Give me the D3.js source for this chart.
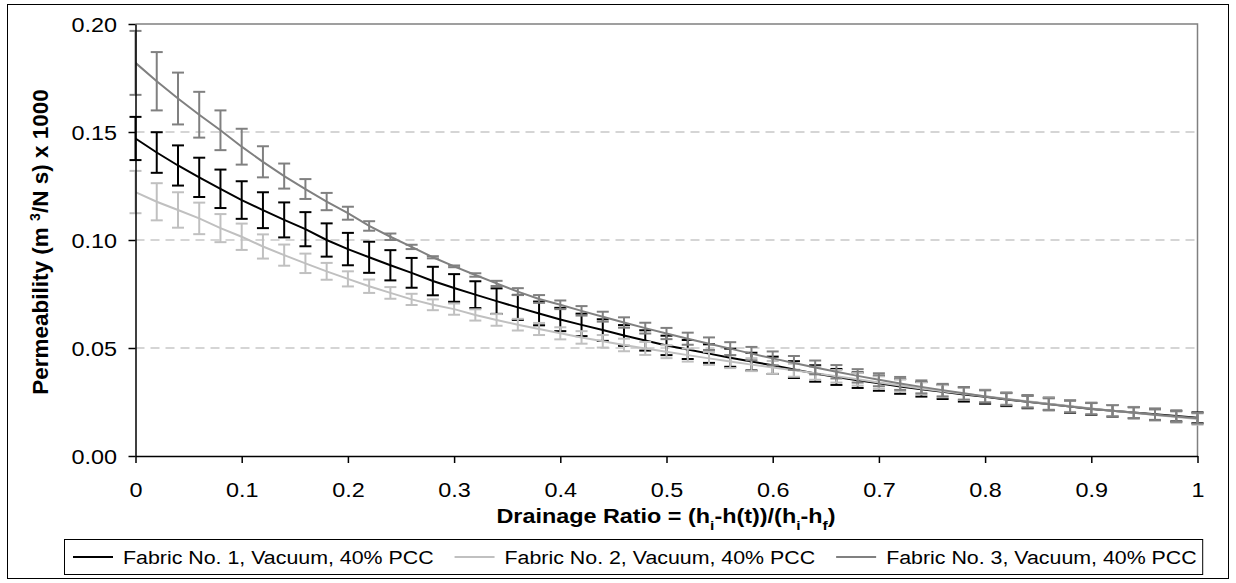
<!DOCTYPE html>
<html>
<head>
<meta charset="utf-8">
<script src="https://cdn.jsdelivr.net/npm/d3@7"></script>
<style>
  body { margin: 0; background: #fff; }
  svg { display: block; font-family: "Liberation Sans", Arial, sans-serif; }
</style>
</head>
<body>
<div id="chart"></div>
<script>
var w = 1236;
var h = 583;

// drainage ratio sample points
var ratio = [0, 0.02, 0.04, 0.06, 0.08, 0.10, 0.12, 0.14, 0.16, 0.18,
             0.20, 0.22, 0.24, 0.26, 0.28, 0.30, 0.32, 0.34, 0.36, 0.38,
             0.40, 0.42, 0.44, 0.46, 0.48, 0.50, 0.52, 0.54, 0.56, 0.58,
             0.60, 0.62, 0.64, 0.66, 0.68, 0.70, 0.72, 0.74, 0.76, 0.78,
             0.80, 0.82, 0.84, 0.86, 0.88, 0.90, 0.92, 0.94, 0.96, 0.98, 1.00];

var fabric1 = [0.1470, 0.1405, 0.1345, 0.1290, 0.1237, 0.1185, 0.1138, 0.1093, 0.1050, 0.1000,
               0.0958, 0.0920, 0.0883, 0.0848, 0.0810, 0.0778, 0.0747, 0.0717, 0.0688, 0.0660,
               0.0632, 0.0607, 0.0583, 0.0558, 0.0535, 0.0512, 0.0493, 0.0474, 0.0455, 0.0437,
               0.0420, 0.0400, 0.0382, 0.0366, 0.0351, 0.0337, 0.0322, 0.0309, 0.0297, 0.0285,
               0.0274, 0.0262, 0.0251, 0.0241, 0.0229, 0.0218, 0.0209, 0.0201, 0.0193, 0.0185, 0.0177];
var err1 = [0.0100, 0.0094, 0.0093, 0.0091, 0.0089, 0.0087, 0.0083, 0.0081, 0.0079, 0.0077,
            0.0075, 0.0072, 0.0070, 0.0069, 0.0066, 0.0064, 0.0062, 0.0059, 0.0058, 0.0055,
            0.0054, 0.0052, 0.0050, 0.0048, 0.0047, 0.0045, 0.0044, 0.0043, 0.0042, 0.0041,
            0.0040, 0.0039, 0.0038, 0.0037, 0.0036, 0.0035, 0.0034, 0.0034, 0.0033, 0.0033,
            0.0032, 0.0031, 0.0030, 0.0029, 0.0029, 0.0028, 0.0027, 0.0026, 0.0026, 0.0025, 0.0025];

var fabric2 = [0.1222, 0.1177, 0.1139, 0.1100, 0.1055, 0.1015, 0.0970, 0.0930, 0.0892, 0.0855,
               0.0820, 0.0786, 0.0755, 0.0725, 0.0700, 0.0680, 0.0653, 0.0630, 0.0608, 0.0588,
               0.0568, 0.0549, 0.0531, 0.0514, 0.0498, 0.0483, 0.0467, 0.0452, 0.0437, 0.0423,
               0.0410, 0.0397, 0.0383, 0.0369, 0.0355, 0.0340, 0.0326, 0.0313, 0.0300, 0.0288,
               0.0277, 0.0265, 0.0253, 0.0242, 0.0231, 0.0220, 0.0210, 0.0200, 0.0190, 0.0180, 0.0171];
var err2 = [0.0098, 0.0086, 0.0082, 0.0073, 0.0065, 0.0061, 0.0056, 0.0049, 0.0045, 0.0039,
            0.0035, 0.0031, 0.0027, 0.0026, 0.0025, 0.0026, 0.0026, 0.0027, 0.0027, 0.0028,
            0.0028, 0.0029, 0.0029, 0.0029, 0.0030, 0.0030, 0.0030, 0.0030, 0.0030, 0.0030,
            0.0030, 0.0030, 0.0030, 0.0029, 0.0029, 0.0029, 0.0029, 0.0028, 0.0028, 0.0028,
            0.0028, 0.0027, 0.0027, 0.0027, 0.0027, 0.0027, 0.0026, 0.0026, 0.0026, 0.0026, 0.0026];

var fabric3 = [0.1820, 0.1735, 0.1655, 0.1580, 0.1508, 0.1432, 0.1362, 0.1296, 0.1236, 0.1178,
               0.1124, 0.1065, 0.1015, 0.0968, 0.0920, 0.0878, 0.0838, 0.0799, 0.0761, 0.0727,
               0.0700, 0.0672, 0.0645, 0.0618, 0.0592, 0.0567, 0.0543, 0.0520, 0.0497, 0.0474,
               0.0452, 0.0431, 0.0410, 0.0390, 0.0371, 0.0353, 0.0336, 0.0320, 0.0305, 0.0290,
               0.0276, 0.0263, 0.0251, 0.0240, 0.0229, 0.0219, 0.0209, 0.0200, 0.0191, 0.0183, 0.0175];
var err3 = [0.0148, 0.0135, 0.0120, 0.0106, 0.0092, 0.0083, 0.0072, 0.0058, 0.0046, 0.0040,
            0.0030, 0.0022, 0.0015, 0.0010, 0.0005, 0.0004, 0.0008, 0.0012, 0.0016, 0.0018,
            0.0020, 0.0022, 0.0023, 0.0024, 0.0025, 0.0026, 0.0028, 0.0029, 0.0030, 0.0031,
            0.0032, 0.0032, 0.0032, 0.0031, 0.0031, 0.0030, 0.0030, 0.0030, 0.0029, 0.0029,
            0.0028, 0.0028, 0.0027, 0.0027, 0.0027, 0.0026, 0.0026, 0.0025, 0.0025, 0.0025, 0.0025];

var seriesNames = ["Fabric No. 1, Vacuum, 40% PCC",
                   "Fabric No. 2, Vacuum, 40% PCC",
                   "Fabric No. 3, Vacuum, 40% PCC"];
var seriesColors = ["#000000", "#c0c0c0", "#808080"];
var xTicks = [0, 0.1, 0.2, 0.3, 0.4, 0.5, 0.6, 0.7, 0.8, 0.9, 1];
var yTicks = [0, 0.05, 0.10, 0.15, 0.20];
var gridVals = [0.05, 0.10, 0.15];

var stretch = 1.2;  // text in the picture is a bit wide

function init(){
	var series = [
		{name: seriesNames[0], color: seriesColors[0], values: fabric1, err: err1},
		{name: seriesNames[1], color: seriesColors[1], values: fabric2, err: err2},
		{name: seriesNames[2], color: seriesColors[2], values: fabric3, err: err3}
	];

	var xScale = d3.scaleLinear()
					.domain([0, 1])
					.range([135.5, 1197.5]);

	var yScale = d3.scaleLinear()
					.domain([0, 0.2])
					.range([456, 24]);

	var svg = d3.select("#chart")
				.append("svg")
				.attr("width", w)
				.attr("height", h);

	// chart area frame
	svg.append("rect")
		.attr("x", 7.5).attr("y", 4.5)
		.attr("width", 1221).attr("height", 574)
		.attr("fill", "#fff")
		.attr("stroke", "#000")
		.attr("stroke-width", 1);

	// dashed gridlines
	svg.selectAll(".grid")
		.data(gridVals)
		.enter()
		.append("line")
		.attr("x1", xScale(0)).attr("x2", xScale(1))
		.attr("y1", function(d){ return yScale(d); })
		.attr("y2", function(d){ return yScale(d); })
		.attr("stroke", "#c8c8c8")
		.attr("stroke-width", 1.5)
		.attr("stroke-dasharray", "9,6");

	// plot area border top + right
	svg.append("path")
		.attr("d", "M" + xScale(0) + "," + yScale(0.2) + "H" + xScale(1) + "V" + yScale(0))
		.attr("fill", "none")
		.attr("stroke", "#808080")
		.attr("stroke-width", 1.5);

	var line = d3.line()
				.x(function(d, i){ return xScale(ratio[i]); })
				.y(function(d){ return yScale(d); });

	var capHalf = 6;

	series.forEach(function(s){
		var g = svg.append("g").attr("class", "series");

		var bars = g.selectAll(".bar")
					.data(s.values)
					.enter()
					.append("g");

		bars.append("line")   // vertical stem
			.attr("x1", function(d, i){ return xScale(ratio[i]); })
			.attr("x2", function(d, i){ return xScale(ratio[i]); })
			.attr("y1", function(d, i){ return yScale(d + s.err[i]); })
			.attr("y2", function(d, i){ return yScale(d - s.err[i]); });
		bars.append("line")   // top cap
			.attr("x1", function(d, i){ return xScale(ratio[i]) - capHalf; })
			.attr("x2", function(d, i){ return xScale(ratio[i]) + capHalf; })
			.attr("y1", function(d, i){ return yScale(d + s.err[i]); })
			.attr("y2", function(d, i){ return yScale(d + s.err[i]); });
		bars.append("line")   // bottom cap
			.attr("x1", function(d, i){ return xScale(ratio[i]) - capHalf; })
			.attr("x2", function(d, i){ return xScale(ratio[i]) + capHalf; })
			.attr("y1", function(d, i){ return yScale(d - s.err[i]); })
			.attr("y2", function(d, i){ return yScale(d - s.err[i]); });
		bars.selectAll("line")
			.attr("stroke", s.color)
			.attr("stroke-width", 2);

		g.append("path")
			.datum(s.values)
			.attr("d", line)
			.attr("fill", "none")
			.attr("stroke", s.color)
			.attr("stroke-width", 2);
	});

	// axes
	var xAxis = d3.axisBottom(xScale)
					.tickValues(xTicks)
					.tickFormat(function(d){ return d === 0 || d === 1 ? String(d) : d3.format(".1f")(d); })
					.tickSizeInner(7)
					.tickSizeOuter(0);

	var gx = svg.append("g")
		.attr("transform", "translate(0," + yScale(0) + ")")
		.call(xAxis);

	var yAxis = d3.axisLeft(yScale)
					.tickValues(yTicks)
					.tickFormat(d3.format(".2f"))
					.tickSizeInner(7)
					.tickSizeOuter(0);

	var gy = svg.append("g")
		.attr("transform", "translate(" + xScale(0) + ",0)")
		.call(yAxis);

	[gx, gy].forEach(function(g){
		g.select(".domain").attr("stroke", "#000").attr("stroke-width", 1.5);
		g.selectAll(".tick line").attr("stroke", "#000").attr("stroke-width", 1.5);
		g.selectAll(".tick text")
			.attr("fill", "#000")
			.style("font-size", "19.5px")
			.attr("transform", "scale(" + stretch + ",1)");
	});
	gx.selectAll(".tick text").attr("y", 27);
	gy.selectAll(".tick text").attr("x", -18.5 / stretch).attr("dy", "0.36em");

	// x axis title
	var xt = svg.append("text")
		.attr("transform", "translate(666,523) scale(" + stretch + ",1)")
		.attr("text-anchor", "middle")
		.style("font-size", "19.5px")
		.style("font-weight", "bold");
	xt.append("tspan").text("Drainage Ratio = (h");
	xt.append("tspan").attr("baseline-shift", "sub").style("font-size", "13px").text("i");
	xt.append("tspan").text("-h(t))/(h");
	xt.append("tspan").attr("baseline-shift", "sub").style("font-size", "13px").text("i");
	xt.append("tspan").text("-h");
	xt.append("tspan").attr("baseline-shift", "sub").style("font-size", "13px").text("f");
	xt.append("tspan").text(")");

	// y axis title
	var yt = svg.append("text")
		.attr("transform", "translate(48,242) rotate(-90)")
		.attr("text-anchor", "middle")
		.style("font-size", "22.5px")
		.style("font-weight", "bold");
	yt.append("tspan").text("Permeability (m ");
	yt.append("tspan").attr("baseline-shift", "super").style("font-size", "14px").text("3");
	yt.append("tspan").text("/N s) x 1000");

	// legend
	var legend = svg.append("g");
	var box = legend.append("rect")
		.attr("fill", "#fff")
		.attr("stroke", "#000")
		.attr("stroke-width", 1);

	var lx = 73;
	var ly = 557;
	series.forEach(function(s){
		legend.append("line")
			.attr("x1", lx).attr("x2", lx + 40)
			.attr("y1", ly).attr("y2", ly)
			.attr("stroke", s.color)
			.attr("stroke-width", 2);
		var t = legend.append("text")
			.attr("transform", "translate(" + (lx + 50) + "," + (ly + 6.5) + ") scale(" + stretch + ",1)")
			.style("font-size", "17.8px")
			.attr("fill", "#000")
			.text(s.name);
		lx += 50 + t.node().getComputedTextLength() * stretch + 21;
	});
	box.attr("x", 64.5).attr("y", 539.5)
		.attr("width", lx - 21 + 6 - 64.5)
		.attr("height", 35);
}

window.onload = init;
</script>
</body>
</html>
